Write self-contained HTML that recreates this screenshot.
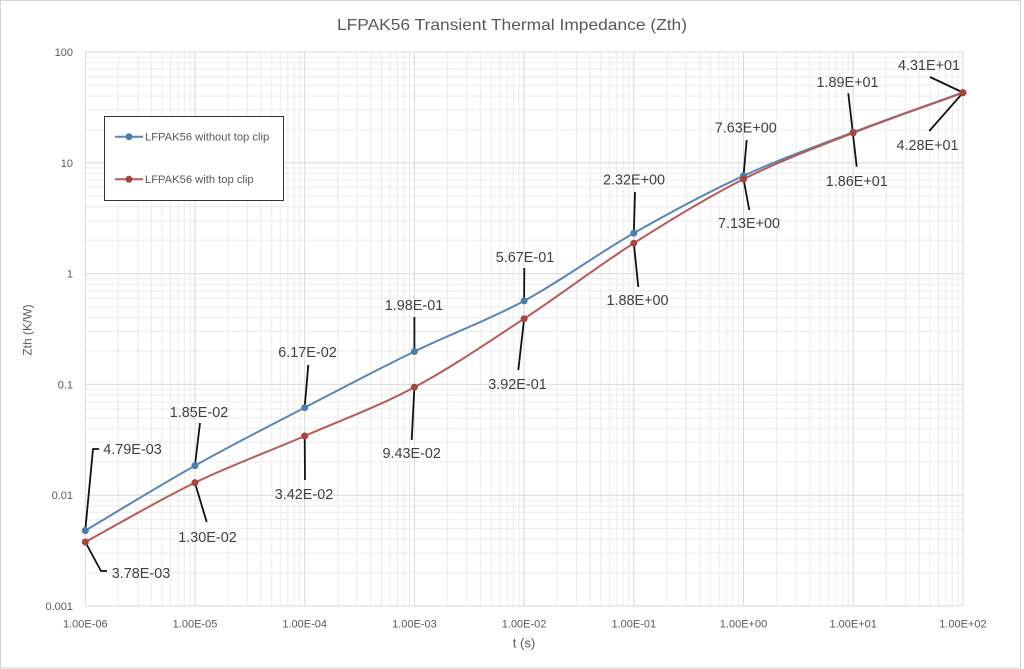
<!DOCTYPE html>
<html>
<head>
<meta charset="utf-8">
<style>
html,body{margin:0;padding:0;background:#fff;}
svg{display:block;}
text{font-family:"Liberation Sans",Arial,sans-serif;}
</style>
</head>
<body>
<svg width="1024" height="669" viewBox="0 0 1024 669" xmlns="http://www.w3.org/2000/svg">
<defs>
<pattern id="vminor" patternUnits="userSpaceOnUse" x="85.3" y="52" width="109.7" height="554">
<g stroke="#ececec" stroke-width="1">
<line x1="33.02" y1="0" x2="33.02" y2="554"/>
<line x1="52.34" y1="0" x2="52.34" y2="554"/>
<line x1="66.05" y1="0" x2="66.05" y2="554"/>
<line x1="76.68" y1="0" x2="76.68" y2="554"/>
<line x1="85.36" y1="0" x2="85.36" y2="554"/>
<line x1="92.71" y1="0" x2="92.71" y2="554"/>
<line x1="99.07" y1="0" x2="99.07" y2="554"/>
<line x1="104.68" y1="0" x2="104.68" y2="554"/>
</g>
</pattern>
<pattern id="hminor" patternUnits="userSpaceOnUse" x="85.3" y="52" width="877.6" height="110.8">
<g stroke="#ececec" stroke-width="1">
<line x1="0" y1="77.45" x2="877.6" y2="77.45"/>
<line x1="0" y1="57.94" x2="877.6" y2="57.94"/>
<line x1="0" y1="44.09" x2="877.6" y2="44.09"/>
<line x1="0" y1="33.35" x2="877.6" y2="33.35"/>
<line x1="0" y1="24.58" x2="877.6" y2="24.58"/>
<line x1="0" y1="17.16" x2="877.6" y2="17.16"/>
<line x1="0" y1="10.74" x2="877.6" y2="10.74"/>
<line x1="0" y1="5.07" x2="877.6" y2="5.07"/>
</g>
</pattern>
</defs>

<!-- outer border -->
<rect x="0.5" y="0.5" width="1020" height="667.5" fill="#fff" stroke="#d4d4d4" stroke-width="1"/>

<!-- title -->
<text x="512" y="30" font-size="16" fill="#595959" text-anchor="middle" textLength="350" lengthAdjust="spacingAndGlyphs">LFPAK56 Transient Thermal Impedance (Zth)</text>

<!-- minor grids -->
<rect x="85.3" y="52" width="877.6" height="554" fill="url(#vminor)"/>
<rect x="85.3" y="52" width="877.6" height="554" fill="url(#hminor)"/>

<!-- major grids -->
<g stroke="#d9d9d9" stroke-width="1">
<line x1="85.3" y1="52" x2="962.9" y2="52"/>
<line x1="85.3" y1="162.8" x2="962.9" y2="162.8"/>
<line x1="85.3" y1="273.6" x2="962.9" y2="273.6"/>
<line x1="85.3" y1="384.4" x2="962.9" y2="384.4"/>
<line x1="85.3" y1="495.2" x2="962.9" y2="495.2"/>
<line x1="85.3" y1="606" x2="962.9" y2="606"/>
<line x1="85.3" y1="52" x2="85.3" y2="606"/>
<line x1="195.0" y1="52" x2="195.0" y2="606"/>
<line x1="304.7" y1="52" x2="304.7" y2="606"/>
<line x1="414.4" y1="52" x2="414.4" y2="606"/>
<line x1="524.1" y1="52" x2="524.1" y2="606"/>
<line x1="633.8" y1="52" x2="633.8" y2="606"/>
<line x1="743.5" y1="52" x2="743.5" y2="606"/>
<line x1="853.2" y1="52" x2="853.2" y2="606"/>
<line x1="962.9" y1="52" x2="962.9" y2="606"/>
</g>

<!-- y tick labels -->
<g font-size="11" fill="#595959" text-anchor="end">
<text x="73" y="56">100</text>
<text x="73" y="166.8">10</text>
<text x="73" y="277.6">1</text>
<text x="73" y="388.4">0.1</text>
<text x="73" y="499.2">0.01</text>
<text x="73" y="610">0.001</text>
</g>

<!-- x tick labels -->
<g font-size="11" fill="#595959" text-anchor="middle">
<text x="85.3" y="627.5">1.00E-06</text>
<text x="195.0" y="627.5">1.00E-05</text>
<text x="304.7" y="627.5">1.00E-04</text>
<text x="414.4" y="627.5">1.00E-03</text>
<text x="524.1" y="627.5">1.00E-02</text>
<text x="633.8" y="627.5">1.00E-01</text>
<text x="743.5" y="627.5">1.00E+00</text>
<text x="853.2" y="627.5">1.00E+01</text>
<text x="962.9" y="627.5">1.00E+02</text>
</g>

<!-- axis titles -->
<text x="524" y="647.5" font-size="13" fill="#595959" text-anchor="middle">t (s)</text>
<text x="0" y="0" font-size="12" fill="#595959" text-anchor="middle" transform="translate(31.5,330) rotate(-90)">Zth (K/W)</text>

<!-- series lines -->
<path d="M85.3,530.6 C121.9,508.9 158.4,486.1 195.0,465.6 C231.6,445.1 268.1,426.6 304.7,407.6 C341.3,388.6 377.8,369.3 414.4,351.5 C451.0,333.7 487.5,320.6 524.1,300.9 C560.7,281.2 597.2,254.0 633.8,233.1 C670.4,212.3 706.9,192.6 743.5,175.8 C780.1,159.0 816.6,146.1 853.2,132.2 C889.8,118.3 926.3,105.7 962.9,92.5" fill="none" stroke="#5a87b5" stroke-width="2"/>
<path d="M85.3,542.0 C121.9,522.2 158.4,500.3 195.0,482.6 C231.6,464.9 268.1,451.9 304.7,436.0 C341.3,420.1 377.8,406.8 414.4,387.2 C451.0,367.7 487.5,342.7 524.1,318.7 C560.7,294.7 597.2,266.5 633.8,243.2 C670.4,219.9 706.9,197.5 743.5,179.1 C780.1,160.7 816.6,147.3 853.2,132.9 C889.8,118.5 926.3,106.2 962.9,92.8" fill="none" stroke="#b85a56" stroke-width="2"/>

<!-- leader lines -->
<g stroke="#111" stroke-width="1.8" fill="none">
<polyline points="85.3,530 93,449 99,449"/>
<polyline points="85.3,542 101,571 107,571"/>
<line x1="195" y1="465" x2="200" y2="423"/>
<line x1="195" y1="483" x2="206.7" y2="522"/>
<line x1="304.7" y1="407" x2="308.3" y2="365"/>
<line x1="304.7" y1="436" x2="305" y2="480"/>
<line x1="414.4" y1="351" x2="414.4" y2="317"/>
<line x1="414.4" y1="387" x2="411.7" y2="440"/>
<line x1="524.1" y1="301" x2="524.3" y2="268"/>
<line x1="524.1" y1="319" x2="518.3" y2="370"/>
<line x1="633.8" y1="233" x2="635" y2="192"/>
<line x1="633.8" y1="243" x2="638.3" y2="287"/>
<line x1="743.5" y1="176" x2="746.7" y2="140"/>
<line x1="743.5" y1="179" x2="749.3" y2="210"/>
<line x1="848.3" y1="93.3" x2="856.7" y2="166.7"/>
<line x1="962.9" y1="92.5" x2="930" y2="77"/>
<line x1="962.9" y1="92.8" x2="929.3" y2="131"/>
</g>

<!-- markers -->
<g fill="#4a7eb0">
<circle cx="85.3" cy="530.6" r="3.5"/>
<circle cx="195.0" cy="465.6" r="3.5"/>
<circle cx="304.7" cy="407.6" r="3.5"/>
<circle cx="414.4" cy="351.5" r="3.5"/>
<circle cx="524.1" cy="300.9" r="3.5"/>
<circle cx="633.8" cy="233.1" r="3.5"/>
<circle cx="743.5" cy="175.8" r="3.5"/>
<circle cx="853.2" cy="132.2" r="3.5"/>
<circle cx="962.9" cy="92.5" r="3.5"/>
</g>
<g fill="#a8453f">
<circle cx="85.3" cy="542.0" r="3.5"/>
<circle cx="195.0" cy="482.6" r="3.5"/>
<circle cx="304.7" cy="436.0" r="3.5"/>
<circle cx="414.4" cy="387.2" r="3.5"/>
<circle cx="524.1" cy="318.7" r="3.5"/>
<circle cx="633.8" cy="243.2" r="3.5"/>
<circle cx="743.5" cy="179.1" r="3.5"/>
<circle cx="853.2" cy="132.9" r="3.5"/>
<circle cx="962.9" cy="92.8" r="3.5"/>
</g>

<!-- data labels -->
<g font-size="14.4" fill="#404040" text-anchor="middle">
<text x="132.5" y="454.2">4.79E-03</text>
<text x="141" y="578.2">3.78E-03</text>
<text x="199" y="417.2">1.85E-02</text>
<text x="207.5" y="542.2">1.30E-02</text>
<text x="307.5" y="357.2">6.17E-02</text>
<text x="304" y="499.2">3.42E-02</text>
<text x="414" y="310.2">1.98E-01</text>
<text x="411.7" y="458.2">9.43E-02</text>
<text x="525" y="262.2">5.67E-01</text>
<text x="517.5" y="389.2">3.92E-01</text>
<text x="634" y="184.7">2.32E+00</text>
<text x="637.5" y="305.2">1.88E+00</text>
<text x="745.8" y="132.7">7.63E+00</text>
<text x="749" y="227.9">7.13E+00</text>
<text x="847.5" y="86.9">1.89E+01</text>
<text x="856.8" y="185.9">1.86E+01</text>
<text x="929" y="70.2">4.31E+01</text>
<text x="927.5" y="150.2">4.28E+01</text>
</g>

<!-- legend -->
<rect x="104.5" y="116.5" width="179" height="84" fill="#fff" stroke="#333" stroke-width="1"/>
<line x1="115" y1="136.7" x2="143" y2="136.7" stroke="#5a87b5" stroke-width="2"/>
<circle cx="129" cy="136.7" r="3.5" fill="#4a7eb0"/>
<text x="145" y="140.6" font-size="11.2" fill="#595959">LFPAK56 without top clip</text>
<line x1="115" y1="179.3" x2="143" y2="179.3" stroke="#b85a56" stroke-width="2"/>
<circle cx="129" cy="179.3" r="3.5" fill="#a8453f"/>
<text x="145" y="183.2" font-size="11.2" fill="#595959">LFPAK56 with top clip</text>
</svg>
</body>
</html>
